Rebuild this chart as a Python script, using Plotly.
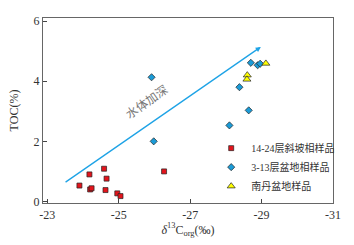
import plotly.graph_objects as go

# Data
slope_x = [-23.90, -24.18, -24.20, -24.24, -24.59, -24.63, -24.66, -24.96, -25.05, -26.27]
slope_y = [0.53, 0.90, 0.40, 0.44, 1.09, 0.38, 0.76, 0.27, 0.18, 1.00]

basin_x = [-25.92, -25.98, -28.10, -28.38, -28.64, -28.70, -28.89, -28.96]
basin_y = [4.13, 2.00, 2.53, 3.80, 3.03, 4.61, 4.53, 4.58]

nandan_x = [-28.60, -28.59, -29.12]
nandan_y = [4.20, 4.06, 4.59]

arrow_start = (-23.47, 0.61)
arrow_end = (-28.98, 5.14)
arrow_label = "水体加深"

x_ticks = [-23, -25, -27, -29, -31]
y_ticks = [0, 2, 4, 6]

FONT = "Liberation Serif, Times New Roman, Noto Sans CJK SC, serif"
edge = dict(color="#222222", width=0.7)

fig = go.Figure()
fig.add_trace(go.Scatter(x=slope_x, y=slope_y, mode="markers", name="14-24层斜坡相样品",
                         marker=dict(symbol="square", size=5, color="#e3141c", line=edge)))
fig.add_trace(go.Scatter(x=basin_x, y=basin_y, mode="markers", name="3-13层盆地相样品",
                         marker=dict(symbol="diamond", size=5.5, color="#1b9bd7", line=edge)))
fig.add_trace(go.Scatter(x=nandan_x, y=nandan_y, mode="markers", name="南丹盆地样品",
                         marker=dict(symbol="triangle-up", size=7, color="#ffff00", line=edge)))

fig.add_annotation(x=arrow_end[0], y=arrow_end[1], ax=arrow_start[0], ay=arrow_start[1],
                   xref="x", yref="y", axref="x", ayref="y", text="", showarrow=True,
                   arrowhead=2, arrowsize=0.8, arrowwidth=1.3, arrowcolor="#1ea3e6")
fig.add_annotation(x=-25.80, y=3.30, xref="x", yref="y", text=arrow_label, showarrow=False,
                   textangle=-35, font=dict(family=FONT, size=12, color="#777777"))

axis_common = dict(showline=True, linecolor="#666666", linewidth=1.2, mirror=True,
                   ticks="inside", ticklen=4, tickcolor="#444444", showgrid=False,
                   zeroline=False, automargin=False,
                   tickfont=dict(family=FONT, size=12, color="#333333"))

fig.update_xaxes(range=[-22.88, -31.0], tickvals=x_ticks, ticktext=[str(v) for v in x_ticks],
                 title=dict(text="<i>δ</i><sup>13</sup>C<sub>org</sub>(‰)",
                            font=dict(family=FONT, size=12, color="#333333"), standoff=4),
                 **axis_common)
fig.update_yaxes(range=[-0.05, 6.1], tickvals=y_ticks,
                 title=dict(text="TOC(%)", font=dict(family=FONT, size=12, color="#333333"),
                            standoff=12),
                 **axis_common)

fig.update_layout(width=354, height=245, margin=dict(l=43, r=21, t=18, b=42),
                  plot_bgcolor="white", paper_bgcolor="white", showlegend=True,
                  legend=dict(x=0.58, y=0.375, xanchor="left", yanchor="top",
                              bgcolor="rgba(0,0,0,0)", itemwidth=30,
                              font=dict(family=FONT, size=10, color="#333333"),
                              tracegroupgap=0))

fig.write_html("out.html", config={"displayModeBar": False},
               post_script="document.body.style.margin='0';document.body.style.padding='0';")
